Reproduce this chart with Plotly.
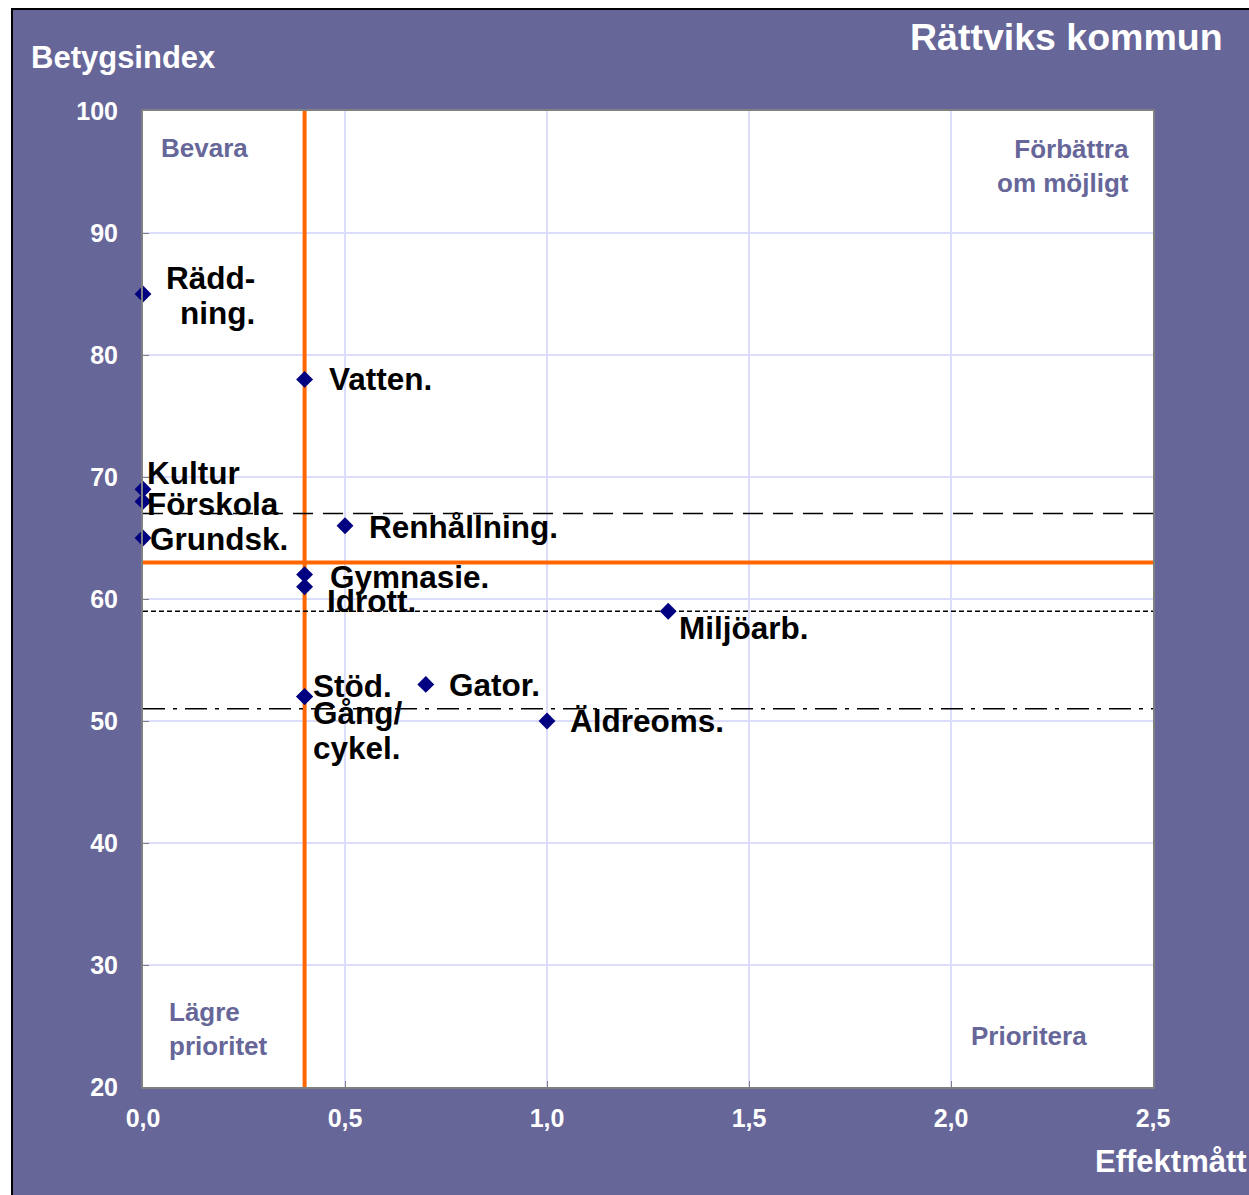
import plotly.graph_objects as go

# ---- data ----
labels = ["Rädd-<br>ning.", "Vatten.", "Kultur", "Förskola", "Grundsk.", "Renhållning.",
          "Gymnasie.", "Idrott.", "Miljöarb.", "Stöd.", "Gång/<br>cykel.", "Gator.", "Äldreoms."]
effekt = [0.0, 0.4, 0.0, 0.0, 0.0, 0.5, 0.4, 0.4, 1.3, 0.4, 0.4, 0.7, 1.0]
betyg = [85, 78, 69, 68, 65, 66, 62, 61, 59, 52, 52, 53, 50]

x_split = 0.4          # orange vertical line
y_split = 63           # orange horizontal line
ref_long_dash = 67
ref_short_dash = 59
ref_dash_dot = 51

x_ticks = [0.0, 0.5, 1.0, 1.5, 2.0, 2.5]
y_ticks = [20, 30, 40, 50, 60, 70, 80, 90, 100]

# label placement (pixel offsets from the point), styling only
lab_anchor = ["right", "left", "left", "left", "left", "left", "left", "left", "left", "left", "left", "left", "left"]
lab_xshift = [114, 22, 2, 2, 5, 22, 23, 20, 9, 6, 6, 21, 21]
lab_yshift = [-1, 0, 16, -3, -1, -1, -2, -14, -17, 11, -34, -1, 0]
LINE_GAP = 35

W, H = 1249, 1195
L, R, T, B = 143, 1153, 111, 1087
PURPLE = "#666699"
FONT = "Liberation Sans, Arial, sans-serif"


def px(x):  # pixel x -> paper
    return (x - L) / (R - L)


def py(y):  # pixel y -> paper
    return (B - y) / (B - T)


fig = go.Figure()

# orange split lines
fig.add_trace(go.Scatter(x=[x_split, x_split], y=[20, 100], mode="lines",
                         line=dict(color="#ff6600", width=4), hoverinfo="skip", showlegend=False))
fig.add_trace(go.Scatter(x=[0, 2.5], y=[y_split, y_split], mode="lines",
                         line=dict(color="#ff6600", width=4), hoverinfo="skip", showlegend=False))
# reference lines
fig.add_trace(go.Scatter(x=[0, 2.5], y=[ref_long_dash] * 2, mode="lines",
                         line=dict(color="black", width=1.5, dash="20px,10px"), hoverinfo="skip", showlegend=False))
fig.add_trace(go.Scatter(x=[0, 2.5], y=[ref_short_dash] * 2, mode="lines",
                         line=dict(color="black", width=1.5, dash="5px,3px"), hoverinfo="skip", showlegend=False))
fig.add_trace(go.Scatter(x=[0, 2.5], y=[ref_dash_dot] * 2, mode="lines",
                         line=dict(color="black", width=1.5, dash="22px,8px,4px,8px"), hoverinfo="skip", showlegend=False))

# points
fig.add_trace(go.Scatter(x=effekt, y=betyg, mode="markers",
                         marker=dict(symbol="diamond", size=13, color="#000080"),
                         cliponaxis=False, showlegend=False))

# point labels (multi-line labels are laid out line by line for tighter spacing)
lfont = dict(family=FONT, size=31.5, color="black", weight="bold")
for lab, xv, yv, anc, xs, ys in zip(labels, effekt, betyg, lab_anchor, lab_xshift, lab_yshift):
    parts = lab.split("<br>")
    n = len(parts)
    for i, part in enumerate(parts):
        dy = ys + ((n - 1) / 2 - i) * LINE_GAP
        fig.add_annotation(x=xv, y=yv, xref="x", yref="y", text=part, showarrow=False,
                           xanchor=anc, yanchor="middle", xshift=xs, yshift=dy,
                           font=lfont)

# quadrant labels
qfont = dict(family=FONT, size=26, color=PURPLE, weight="bold")
fig.add_annotation(x=px(159), y=py(148), xref="paper", yref="paper", text="Bevara",
                   showarrow=False, xanchor="left", yanchor="middle", font=qfont)
fig.add_annotation(x=px(1131), y=py(166), xref="paper", yref="paper", text="Förbättra<br>om möjligt",
                   showarrow=False, xanchor="right", yanchor="middle", align="right", font=qfont)
fig.add_annotation(x=px(167), y=py(1029), xref="paper", yref="paper", text="Lägre<br>prioritet",
                   showarrow=False, xanchor="left", yanchor="middle", align="left", font=qfont)
fig.add_annotation(x=px(969), y=py(1036), xref="paper", yref="paper", text="Prioritera",
                   showarrow=False, xanchor="left", yanchor="middle", font=qfont)

# titles
tfont = dict(family=FONT, size=31, color="white", weight="bold")
fig.add_annotation(x=px(29), y=py(58), xref="paper", yref="paper", text="Betygsindex",
                   showarrow=False, xanchor="left", yanchor="middle", font=tfont)
fig.add_annotation(x=px(1225), y=py(37), xref="paper", yref="paper", text="Rättviks kommun",
                   showarrow=False, xanchor="right", yanchor="middle",
                   font=dict(family=FONT, size=37.5, color="white", weight="bold"))
fig.add_annotation(x=px(1093), y=py(1161), xref="paper", yref="paper", text="Effektmått",
                   showarrow=False, xanchor="left", yanchor="middle", font=tfont)

# white page margin + black frame
shapes = [
    dict(type="rect", xref="paper", yref="paper", x0=px(-5), x1=px(1270), y0=py(8), y1=py(-5),
         fillcolor="white", line=dict(width=0), layer="below"),
    dict(type="rect", xref="paper", yref="paper", x0=px(-5), x1=px(11), y0=py(1215), y1=py(-5),
         fillcolor="white", line=dict(width=0), layer="below"),
    dict(type="line", xref="paper", yref="paper", x0=px(11), x1=px(1270), y0=py(9), y1=py(9),
         line=dict(color="black", width=2), layer="below"),
    dict(type="line", xref="paper", yref="paper", x0=px(12), x1=px(12), y0=py(8), y1=py(1215),
         line=dict(color="black", width=2), layer="below"),
]

fig.update_layout(
    width=W, height=H,
    margin=dict(l=L, r=W - R, t=T, b=H - B, pad=0),
    paper_bgcolor=PURPLE, plot_bgcolor="white",
    separators=",.",
    shapes=shapes,
    showlegend=False,
    font=dict(family=FONT),
)
fig.update_xaxes(range=[0, 2.5], tickvals=x_ticks, tickformat=".1f",
                 showgrid=True, gridcolor="#dcdcfc", gridwidth=1.5, zeroline=False,
                 showline=True, linecolor="#808080", linewidth=2, mirror=True,
                 ticks="inside", ticklen=6, tickcolor="#808080",
                 ticklabelstandoff=8,
                 tickfont=dict(family=FONT, size=25, color="white", weight="bold"))
fig.update_yaxes(range=[20, 100], tickvals=y_ticks,
                 showgrid=True, gridcolor="#dcdcfc", gridwidth=1.5, zeroline=False,
                 showline=True, linecolor="#808080", linewidth=2, mirror=True,
                 ticks="inside", ticklen=6, tickcolor="#808080",
                 ticklabelstandoff=18,
                 tickfont=dict(family=FONT, size=25, color="white", weight="bold"))

fig.write_html("out.html", config={"displayModeBar": False},
               post_script="document.body.style.margin='0px';")
